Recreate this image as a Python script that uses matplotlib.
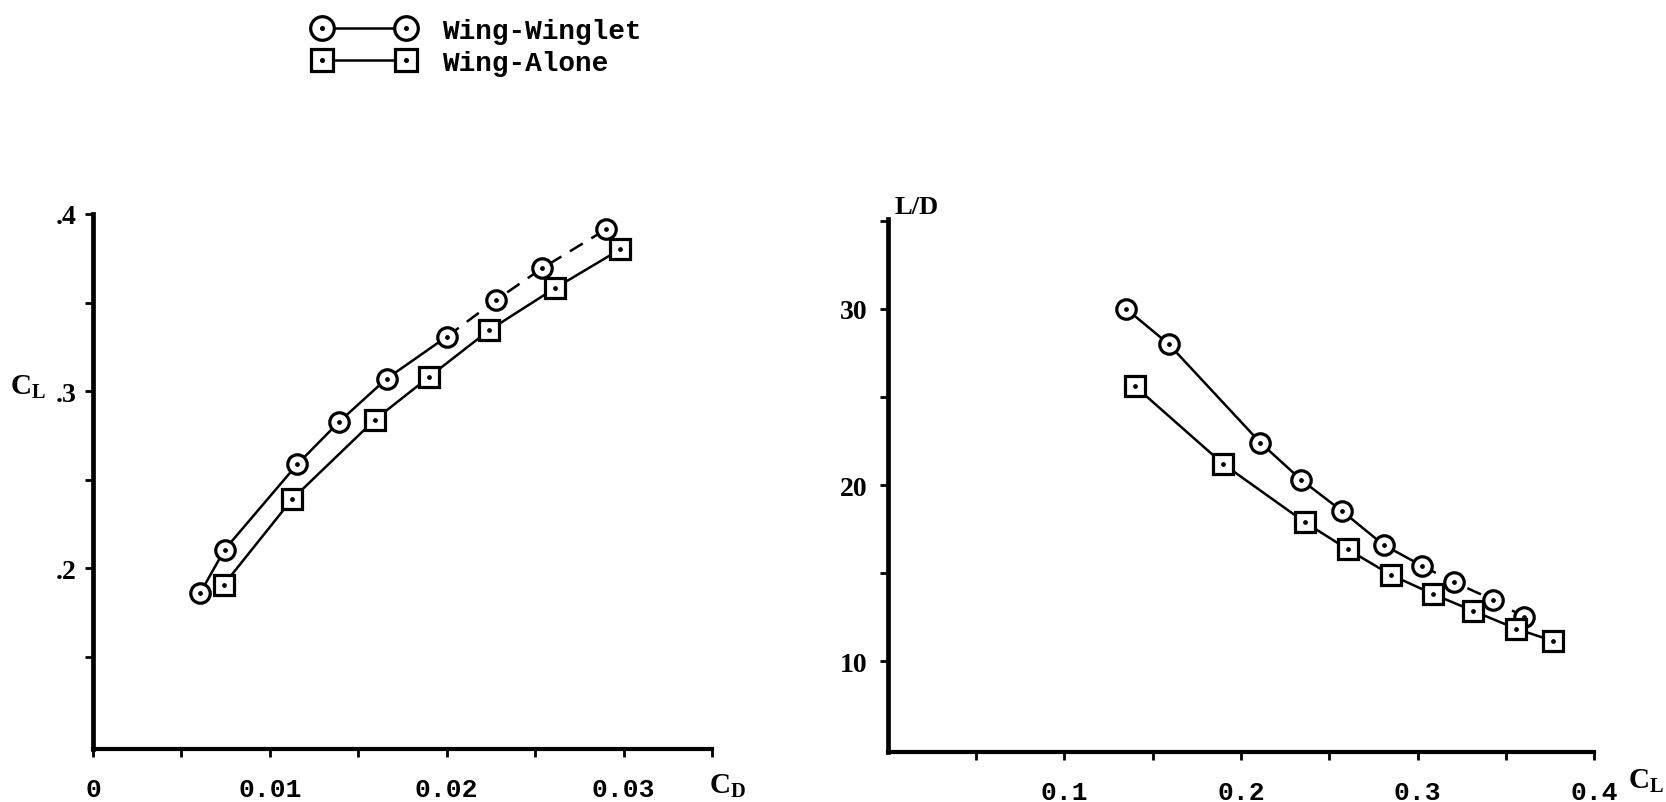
import matplotlib
matplotlib.use('Agg')
from matplotlib import pyplot as plt
from matplotlib.lines import Line2D
from matplotlib.legend_handler import HandlerTuple

# left panel: CL vs CD
cd_winglet = [0.00605, 0.00744, 0.01155, 0.01393, 0.0166, 0.0200, 0.0228, 0.0254, 0.0290]
cl_winglet = [0.1858, 0.2105, 0.2587, 0.2828, 0.3070, 0.3307, 0.3515, 0.3694, 0.3913]
cd_alone = [0.0074, 0.01126, 0.01594, 0.0190, 0.0224, 0.0261, 0.0298]
cl_alone = [0.1908, 0.2390, 0.2839, 0.3080, 0.3344, 0.3580, 0.3800]

# right panel: L/D vs CL
cl_winglet_r = [0.1349, 0.159, 0.211, 0.234, 0.2575, 0.2808, 0.3028, 0.3204, 0.3425, 0.3604]
ld_winglet = [30.0, 28.0, 22.4, 20.3, 18.5, 16.6, 15.4, 14.5, 13.5, 12.5]
cl_alone_r = [0.140, 0.1898, 0.236, 0.2604, 0.2849, 0.309, 0.3317, 0.3557, 0.377]
ld_alone = [25.6, 21.2, 17.9, 16.35, 14.9, 13.8, 12.85, 11.85, 11.14]

series_names = ['Wing-Winglet', 'Wing-Alone']

plt.rcParams['mathtext.fontset'] = 'custom'
plt.rcParams['mathtext.rm'] = 'Liberation Serif'
plt.rcParams['mathtext.bf'] = 'Liberation Serif:bold'

SERIF = 'Liberation Serif'
MONO = 'Liberation Mono'


def draw_series(ax, x, y, marker, ms, dash_from=None):
	n = len(x) if dash_from is None else dash_from + 1
	ax.plot(x[:n], y[:n], '-', color='k', lw=1.8, zorder=2)
	if dash_from is not None:
		ax.plot(x[dash_from:], y[dash_from:], color='k', lw=1.8, dashes=(6, 4), zorder=2)
	ax.plot(x, y, ls='none', marker=marker, ms=ms, mfc='white', mec='k', mew=2.3, zorder=3, clip_on=False)
	ax.plot(x, y, ls='none', marker='o', ms=2.4, color='k', zorder=4, clip_on=False)


def style_axes(ax):
	for s in ['top', 'right']:
		ax.spines[s].set_visible(False)
	ax.spines['left'].set_linewidth(3.4)
	ax.spines['bottom'].set_linewidth(3.0)
	ax.tick_params(which='both', direction='out', length=6, width=2, colors='k')
	ax.tick_params(axis='x', pad=14.5)
	ax.tick_params(axis='y', pad=9)


fig = plt.figure(figsize=(16.66, 8.03), dpi=100)

ax1 = fig.add_axes([0.0558, 0.0660, 0.3716, 0.6663])
draw_series(ax1, cd_winglet, cl_winglet, 'o', 14, dash_from=5)
draw_series(ax1, cd_alone, cl_alone, 's', 14)
ax1.set_xlim(0, 0.035)
ax1.set_ylim(0.098, 0.4)
style_axes(ax1)
ax1.set_xticks([0, 0.01, 0.02, 0.03])
ax1.set_xticklabels(['0', '0.01', '0.02', '0.03'], family=MONO, fontsize=19, fontweight='bold')
ax1.set_xticks([0.005, 0.015, 0.025, 0.035], minor=True)
ax1.set_yticks([0.2, 0.3, 0.4])
ax1.set_yticklabels(['.2', '.3', '.4'], family=SERIF, fontsize=20, fontweight='bold')
ax1.set_yticks([0.15, 0.25, 0.35], minor=True)
ax1.tick_params(axis='y', pad=6)

ax2 = fig.add_axes([0.5330, 0.0623, 0.4238, 0.6638])
draw_series(ax2, cl_winglet_r, ld_winglet, 'o', 14, dash_from=6)
draw_series(ax2, cl_alone_r, ld_alone, 's', 14)
ax2.set_xlim(0, 0.4)
ax2.set_ylim(4.85, 35.1)
style_axes(ax2)
ax2.set_xticks([0.1, 0.2, 0.3, 0.4])
ax2.set_xticklabels(['0.1', '0.2', '0.3', '0.4'], family=MONO, fontsize=19, fontweight='bold')
ax2.set_xticks([0.05, 0.15, 0.25, 0.35], minor=True)
ax2.set_yticks([10, 20, 30])
ax2.set_yticklabels(['10', '20', '30'], family=SERIF, fontsize=20, fontweight='bold')
ax2.set_yticks([15, 25, 35], minor=True)

# axis labels
fig.text(28 / 1666, 1 - 387 / 803, r'$\mathbf{C_L}$', fontsize=21, ha='center', va='center')
fig.text(728 / 1666, 1 - 786 / 803, r'$\mathbf{C_D}$', fontsize=21, ha='center', va='center')
fig.text(1646 / 1666, 1 - 781 / 803, r'$\mathbf{C_L}$', fontsize=21, ha='center', va='center')
fig.text(917 / 1666, 1 - 208 / 803, 'L/D', family=SERIF, fontsize=19, fontweight='bold', ha='center', va='center')

# legend
h_w = (Line2D([], [], color='k', lw=1.8, marker='o', ms=17, mfc='white', mec='k', mew=2.3),
	Line2D([], [], ls='none', marker='o', ms=2.6, color='k'))
h_a = (Line2D([], [], color='k', lw=1.8, marker='s', ms=16, mfc='white', mec='k', mew=2.3),
	Line2D([], [], ls='none', marker='o', ms=2.6, color='k'))
fig.legend([h_w, h_a], series_names, loc='upper left', bbox_to_anchor=(314 / 1666, 1 - 19 / 803),
	frameon=False, numpoints=2, handlelength=3.62, handletextpad=1.0, borderpad=0,
	borderaxespad=0, labelspacing=0.22, handler_map={tuple: HandlerTuple(ndivide=1, pad=0)},
	prop={'family': MONO, 'size': 20, 'weight': 'bold'})

plt.savefig('out.png', dpi=100)
